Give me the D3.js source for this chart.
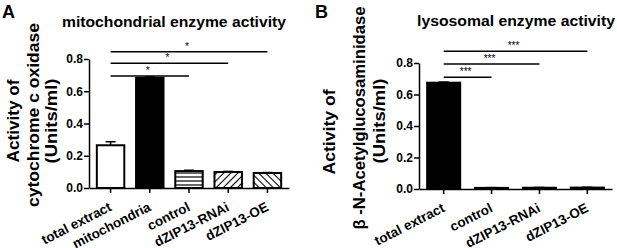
<!DOCTYPE html>
<html>
<head>
<meta charset="utf-8">
<script src="https://cdn.jsdelivr.net/npm/d3@7"></script>
<style>
  body { margin: 0; background: #fff; }
  svg { display: block; font-family: "Liberation Sans", Arial, sans-serif; font-weight: bold; }
</style>
</head>
<body>
<svg id="chart" width="617" height="248"></svg>
<script>
// Panel A data
const categoriesA = ["total extract", "mitochondria", "control", "dZIP13-RNAi", "dZIP13-OE"];
const valuesA = [0.265, 0.683, 0.105, 0.099, 0.093];
const errorsA = [0.022, 0.006, 0.005, 0.004, 0.003];
const patternsA = ["white", "black", "hstripe", "fdiag", "bdiag"];
const sigA = [[0, 2, 0.695, "*"], [0, 3, 0.773, "*"], [0, 4, 0.845, "*"]];

// Panel B data
const categoriesB = ["total extract", "control", "dZIP13-RNAi", "dZIP13-OE"];
const valuesB = [0.675, 0.007, 0.008, 0.009];
const errorsB = [0.004, 0.002, 0.002, 0.002];
const sigB = [[0, 1, 0.709, "***"], [0, 2, 0.794, "***"], [0, 3, 0.875, "***"]];

const yTicks = [0, 0.2, 0.4, 0.6, 0.8];

const svg = d3.select("#chart");
const defs = svg.append("defs");

// Fill patterns for panel A
const hs = defs.append("pattern").attr("id", "hstripe").attr("patternUnits", "userSpaceOnUse")
  .attr("width", 8).attr("height", 4);
hs.append("rect").attr("width", 8).attr("height", 4).attr("fill", "#fff");
hs.append("line").attr("x1", 0).attr("x2", 8).attr("y1", 1).attr("y2", 1).attr("stroke", "#000").attr("stroke-width", 1.2);

function diag(id, angle) {
  const p = defs.append("pattern").attr("id", id).attr("patternUnits", "userSpaceOnUse")
    .attr("width", 5).attr("height", 5).attr("patternTransform", `rotate(${angle})`);
  p.append("rect").attr("width", 5).attr("height", 5).attr("fill", "#fff");
  p.append("line").attr("x1", 0).attr("x2", 0).attr("y1", 0).attr("y2", 5).attr("stroke", "#000").attr("stroke-width", 2.2);
}
diag("fdiag", 45);
diag("bdiag", -45);

function fillFor(p) {
  if (p === "white") return "#fff";
  if (p === "black") return "#000";
  return `url(#${p})`;
}

function drawPanel(opt) {
  const x = d3.scaleBand().domain(opt.categories).range(opt.xRange)
    .paddingInner(opt.padIn).paddingOuter(opt.padOut);
  const y = d3.scaleLinear().domain([0, 0.8]).range(opt.yRange);
  const g = svg.append("g");

  // Bars
  g.selectAll(".bar").data(opt.values).enter().append("rect")
    .attr("x", (d, i) => x(opt.categories[i]))
    .attr("y", d => y(d))
    .attr("width", x.bandwidth())
    .attr("height", d => y(0) - y(d))
    .attr("fill", (d, i) => fillFor(opt.patterns[i]))
    .attr("stroke", "#000")
    .attr("stroke-width", 2);

  // Error bars (upper)
  opt.values.forEach((v, i) => {
    const cx = x(opt.categories[i]) + x.bandwidth() / 2;
    g.append("line").attr("x1", cx).attr("x2", cx).attr("y1", y(v)).attr("y2", y(v + opt.errors[i]))
      .attr("stroke", "#000").attr("stroke-width", 1.5);
    g.append("line").attr("x1", cx - 5).attr("x2", cx + 5)
      .attr("y1", y(v + opt.errors[i])).attr("y2", y(v + opt.errors[i]))
      .attr("stroke", "#000").attr("stroke-width", 1.5);
  });

  // Y axis
  const yAxis = g.append("g").attr("transform", `translate(${opt.xRange[0]},0)`)
    .call(d3.axisLeft(y).tickValues(yTicks).tickFormat(d3.format(".1f")).tickSize(5).tickSizeOuter(0));
  yAxis.select(".domain").attr("stroke-width", 1.5);
  yAxis.selectAll(".tick line").attr("stroke-width", 1.5);
  yAxis.selectAll("text").attr("font-size", 12).attr("font-weight", "bold").attr("font-family", "Liberation Sans, Arial")
    .attr("x", -6).attr("fill", "#000");

  // X axis
  const xAxis = g.append("g").attr("transform", `translate(0,${opt.yRange[0]})`)
    .call(d3.axisBottom(x).tickSize(5).tickSizeOuter(0));
  xAxis.select(".domain").attr("stroke-width", 1.5);
  xAxis.selectAll(".tick line").attr("stroke-width", 1.5);
  xAxis.selectAll("text")
    .attr("font-size", 13.5).attr("font-weight", "bold").attr("font-family", "Liberation Sans, Arial")
    .attr("fill", "#000")
    .attr("text-anchor", "end")
    .attr("y", 0).attr("dy", 0)
    .attr("transform", "translate(2,22) rotate(-27)");

  // Significance brackets
  opt.sig.forEach(s => {
    const x1 = x(opt.categories[s[0]]) + x.bandwidth() / 2;
    const x2 = x(opt.categories[s[1]]) + x.bandwidth() / 2;
    g.append("line").attr("x1", x1).attr("x2", x2).attr("y1", y(s[2])).attr("y2", y(s[2]))
      .attr("stroke", "#000").attr("stroke-width", 1.5);
    g.append("text").attr("x", (x1 + x2) / 2 - 2).attr("y", y(s[2]) - 2)
      .attr("text-anchor", "middle").attr("font-size", opt.starSize).attr("font-weight", "normal")
      .text(s[3]);
  });

  // Title
  svg.append("text").attr("x", opt.title[1]).attr("y", opt.title[2]).attr("text-anchor", "middle")
    .attr("font-size", 14).attr("textLength", opt.title[3]).attr("lengthAdjust", "spacingAndGlyphs")
    .text(opt.title[0]);

  // Panel letter
  svg.append("text").attr("x", opt.letter[1]).attr("y", 18).attr("font-size", 18).text(opt.letter[0]);

  // Y labels (rotated)
  opt.yLabels.forEach(l => {
    svg.append("text").attr("transform", `translate(${l[1]},${l[2]}) rotate(-90)`)
      .attr("text-anchor", "middle").attr("font-size", 16)
      .attr("textLength", l[3]).attr("lengthAdjust", "spacingAndGlyphs")
      .text(l[0]);
  });
}

drawPanel({
  categories: categoriesA, values: valuesA, errors: errorsA, patterns: patternsA, sig: sigA,
  xRange: [89, 289], yRange: [188, 59], padIn: 0.3, padOut: 0.2, starSize: 10,
  title: ["mitochondrial enzyme activity", 174, 27, 224],
  letter: ["A", 2],
  yLabels: [["Activity of", 19, 121, 83], ["cytochrome c oxidase", 38.5, 115, 184], ["(Units/ml)", 57, 121, 85]]
});

drawPanel({
  categories: categoriesB, values: valuesB, errors: errorsB, patterns: ["black", "black", "black", "black"], sig: sigB,
  xRange: [419, 612], yRange: [189, 63], padIn: 0.31, padOut: 0.17, starSize: 10,
  title: ["lysosomal enzyme activity", 516, 26, 198],
  letter: ["B", 315],
  yLabels: [["Activity of", 334.5, 132, 85], ["β -N-Acetylglucosaminidase", 364.5, 118, 223], ["(Units/ml)", 385, 121, 85]]
});
</script>
</body>
</html>
